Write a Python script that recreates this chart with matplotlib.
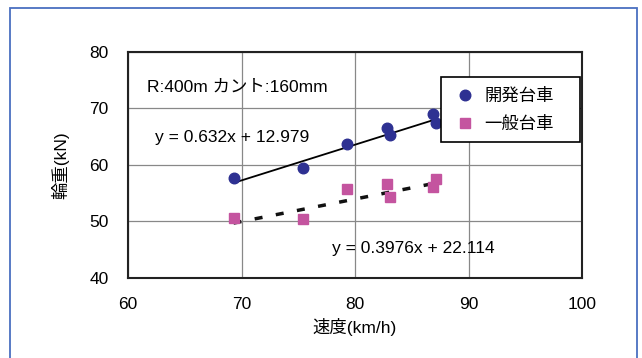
import matplotlib.pyplot as plt
from matplotlib.patches import Rectangle
import numpy as np

plt.rcParams['font.family'] = ['Liberation Sans', 'Noto Sans CJK JP']

# 開発台車
dev_speed = [69.3, 75.4, 79.3, 82.8, 83.1, 86.9, 87.1]
dev_load = [57.7, 59.4, 63.6, 66.5, 65.3, 69.0, 67.4]
# 一般台車
gen_speed = [69.3, 75.4, 79.3, 82.8, 83.1, 87.1, 86.9]
gen_load = [50.6, 50.4, 55.7, 56.6, 54.3, 57.5, 56.0]

dev_fit = (0.632, 12.979)
gen_fit = (0.3976, 22.114)

xticks = [60, 70, 80, 90, 100]
yticks = [40, 50, 60, 70, 80]

fig = plt.figure(figsize=(6.42, 3.58), dpi=100)
fig.patches.append(Rectangle((10 / 642, -0.1), 627 / 642, 1.1 - 8 / 358,
                             transform=fig.transFigure, fill=False,
                             edgecolor='#4a6fc0', linewidth=1.3))

ax = fig.add_axes([128 / 642, 1 - 277.7 / 358, 454 / 642, 226 / 358])
ax.set_xlim(60, 100)
ax.set_ylim(40, 80)
ax.set_xticks(xticks)
ax.set_yticks(yticks)
ax.grid(True, color='#888888', linewidth=0.9)
ax.set_axisbelow(True)
for s in ax.spines.values():
    s.set_color('#222222')
    s.set_linewidth(1.5)
ax.tick_params(length=0, labelsize=12.5, pad=14)

fs = 12.5
ax.plot(dev_speed, dev_load, 'o', color='#2e3192', markersize=7.6, label='開発台車', zorder=3)
ax.plot(gen_speed, gen_load, 's', color='#c4549f', markersize=7.3, label='一般台車', zorder=3)

x1 = np.array([min(dev_speed), max(dev_speed)])
ax.plot(x1, dev_fit[0] * x1 + dev_fit[1], color='black', linewidth=1.3, zorder=2)
x2 = np.array([min(gen_speed), max(gen_speed)])
ax.plot(x2, gen_fit[0] * x2 + gen_fit[1], color='#111111', linewidth=2.5,
        dashes=(2.3, 3.9), zorder=2)

ax.text(61.65, 73.8, 'R:400m カント:160mm', fontsize=fs, va='center')
ax.text(62.4, 64.8, 'y = 0.632x + 12.979', fontsize=fs, va='center')
ax.text(78.0, 45.25, 'y = 0.3976x + 22.114', fontsize=fs, va='center')

leg = ax.legend(loc='upper left', bbox_to_anchor=(0.689, 0.5, 0.306, 0.388),
                mode='expand', borderaxespad=0,
                fontsize=fs, fancybox=False, framealpha=1, edgecolor='black',
                handletextpad=0.3, handlelength=1.6, borderpad=0.6, labelspacing=0.7)
leg.get_frame().set_linewidth(1.2)

ax.set_xlabel('速度(km/h)', fontsize=fs, labelpad=4)
ax.set_ylabel('輪重(kN)', fontsize=fs, labelpad=14)

fig.savefig('out.png', dpi=100)
